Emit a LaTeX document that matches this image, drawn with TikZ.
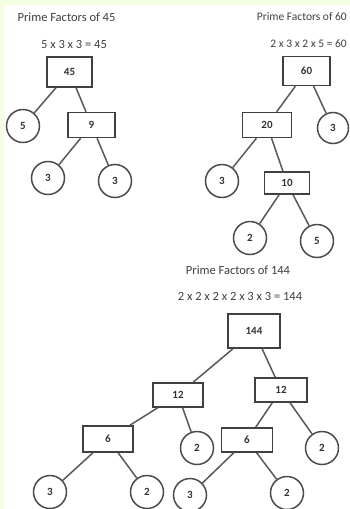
\documentclass[tikz,border=0pt]{standalone}
\usepackage{fontspec}
\setmainfont{Carlito}
\begin{document}
\begin{tikzpicture}[x=1pt,y=-1pt,
  box/.style={draw=black!75, line width=1.5pt, minimum width=47pt, minimum height=25pt, inner sep=0pt, font=\fontsize{11}{12}\selectfont\bfseries, text=black!80},
  leaf/.style={circle, draw=black!70, line width=1.5pt, minimum size=33pt, inner sep=0pt, font=\fontsize{11}{12}\selectfont\bfseries, text=black!80},
  title/.style={font=\fontsize{12.5}{14}\selectfont, text=black!75, inner sep=0pt},
  edge/.style={draw=black!65, line width=1.5pt}
]
\useasboundingbox (0,0) rectangle (350,509);
\fill[white] (0,0) rectangle (350,509);
\fill[green!40!yellow!12] (0,0) rectangle (350,5);
\fill[green!40!yellow!12] (0,0) rectangle (4,509);

% tree of 45
\node[title] (t45) at (66.5,17) {Prime Factors of 45};
\node[title] (e45) at (74,44) {5 x 3 x 3 = 45};
\node[box, minimum width=45pt, minimum height=30pt] (n45) at (69.5,72) {45};
\node[leaf] (c5) at (23,126) {5};
\node[box] (n9) at (91.5,125) {9};
\node[leaf] (c3a) at (48,178) {3};
\node[leaf] (c3b) at (115,181) {3};
\draw[edge] (n45) -- (c5);
\draw[edge] (n45) -- (n9);
\draw[edge] (n9) -- (c3a);
\draw[edge] (n9) -- (c3b);

% tree of 60
\node[title, anchor=east, font=\fontsize{11.5}{13}\selectfont] (t60) at (347,17) {Prime Factors of 60};
\node[title, anchor=east, font=\fontsize{11.5}{13}\selectfont] (e60) at (347,44) {2 x 3 x 2 x 5 = 60};
\node[box, minimum height=29pt] (n60) at (306.5,71) {60};
\node[leaf, minimum size=31pt] (c3r) at (333,128) {3};
\node[box, minimum width=49pt] (n20) at (267,125) {20};
\node[leaf] (c3l) at (222,181) {3};
\node[box, minimum width=45pt, minimum height=22pt] (n10) at (287,183) {10};
\node[leaf] (c2) at (250,238) {2};
\node[leaf] (c5b) at (317,241) {5};
\draw[edge] (n60) -- (c3r);
\draw[edge] (n60) -- (n20);
\draw[edge] (n20) -- (c3l);
\draw[edge] (n20) -- (n10);
\draw[edge] (n10) -- (c2);
\draw[edge] (n10) -- (c5b);

% tree of 144
\node[title] (t144) at (238,270) {Prime Factors of 144};
\node[title] (e144) at (240,296) {2 x 2 x 2 x 2 x 3 x 3 = 144};
\node[box, minimum width=52pt, minimum height=34pt] (n144) at (254,331) {144};
\node[box, minimum width=50pt, minimum height=24pt] (n12a) at (178,395) {12};
\node[box, minimum width=52pt, minimum height=24pt] (n12b) at (281,390) {12};
\node[box, minimum width=50pt, minimum height=26pt] (n6a) at (108,439) {6};
\node[leaf] (c2a) at (197,448) {2};
\node[box, minimum width=51pt, minimum height=24pt] (n6b) at (247,440) {6};
\node[leaf] (c2b) at (322,448) {2};
\node[leaf] (l1) at (50,492) {3};
\node[leaf] (l2) at (147,492) {2};
\node[leaf] (l3) at (190,495) {3};
\node[leaf] (l4) at (287,493) {2};
\draw[edge] (n144) -- (n12a);
\draw[edge] (n144) -- (n12b);
\draw[edge] (n12a) -- (n6a);
\draw[edge] (n12a) -- (c2a);
\draw[edge] (n12b) -- (n6b);
\draw[edge] (n12b) -- (c2b);
\draw[edge] (n6a) -- (l1);
\draw[edge] (n6a) -- (l2);
\draw[edge] (n6b) -- (l3);
\draw[edge] (n6b) -- (l4);
\end{tikzpicture}
\end{document}
